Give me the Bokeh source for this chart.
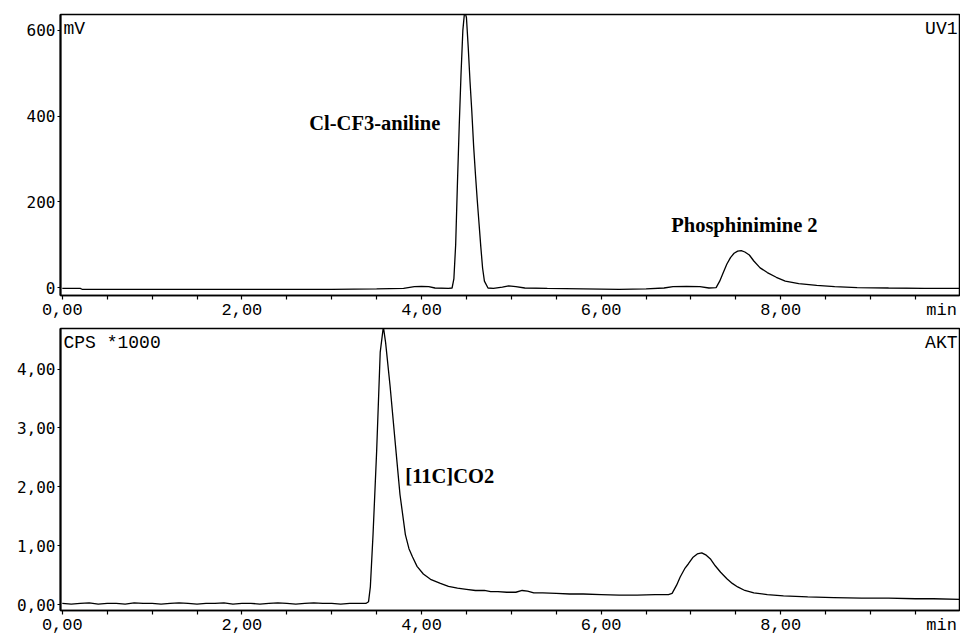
from bokeh.plotting import figure
from bokeh.layouts import column
from bokeh.models import Label, FixedTicker, Range1d
from bokeh.embed import file_html
from bokeh.resources import INLINE

# ---------------- data ----------------
uv_time = [0.00, 0.20, 0.22, 0.60, 1.00, 1.50, 2.00, 2.50, 3.00, 3.50,
           3.80, 3.92, 4.00, 4.08, 4.15, 4.30, 4.34, 4.36, 4.38, 4.40,
           4.42, 4.44, 4.46, 4.48, 4.50, 4.52, 4.54, 4.56, 4.58, 4.60,
           4.62, 4.64, 4.66, 4.68, 4.70, 4.74, 4.80, 4.90, 4.97, 5.05,
           5.15, 5.40, 5.80, 6.20, 6.50, 6.70, 6.80, 6.95, 7.10, 7.20,
           7.28, 7.32, 7.36, 7.40, 7.44, 7.48, 7.52, 7.56, 7.60, 7.65,
           7.70, 7.77, 7.85, 7.95, 8.05, 8.20, 8.40, 8.60, 8.85, 9.20,
           9.60, 10.00]
uv_mv = [-2, -2, -4, -4, -4, -4, -4, -4, -4, -3,
         -2, 2, 3, 2, -1, -2, -1, 20, 100, 245,
         380, 500, 600, 645, 630, 560, 480, 410, 330, 265,
         205, 150, 95, 45, 15, -1, -2, 1, 4, 2,
         -1, -2, -3, -4, -3, -1, 2, 3, 2, -1,
         0, 15, 35, 55, 70, 80, 85, 86, 83, 76,
         62, 46, 35, 24, 15, 9, 5, 2, 0, -1,
         -2, -2]

rad_time = [0.0, 0.1, 0.2, 0.3, 0.4, 0.5, 0.6, 0.7, 0.8, 0.9,
            1.0, 1.1, 1.2, 1.3, 1.4, 1.5, 1.6, 1.7, 1.8, 1.9,
            2.0, 2.1, 2.2, 2.3, 2.4, 2.5, 2.6, 2.7, 2.8, 2.9,
            3.0, 3.1, 3.2, 3.3, 3.38, 3.41, 3.43, 3.46, 3.50, 3.54,
            3.575, 3.60, 3.65, 3.71, 3.76, 3.82, 3.86, 3.90, 3.95, 4.02,
            4.10, 4.21, 4.30, 4.40, 4.50, 4.60, 4.70, 4.77, 4.85, 4.95,
            5.05, 5.12, 5.18, 5.25, 5.35, 5.50, 5.65, 5.80, 6.00, 6.20,
            6.40, 6.60, 6.75, 6.79, 6.84, 6.88, 6.93, 6.97, 7.02, 7.07,
            7.12, 7.17, 7.22, 7.27, 7.33, 7.40, 7.46, 7.52, 7.60, 7.70,
            7.85, 8.03, 8.30, 8.59, 8.90, 9.20, 9.50, 9.70, 10.00]
rad_cps = [0.02, 0.01, 0.02, 0.03, 0.01, 0.02, 0.02, 0.01, 0.03, 0.02,
           0.02, 0.01, 0.02, 0.03, 0.02, 0.01, 0.02, 0.02, 0.03, 0.01,
           0.02, 0.02, 0.01, 0.02, 0.03, 0.02, 0.01, 0.02, 0.03, 0.02,
           0.02, 0.01, 0.02, 0.02, 0.02, 0.05, 0.30, 1.19, 2.60, 4.29,
           4.72, 4.45, 3.71, 2.70, 1.87, 1.19, 0.95, 0.81, 0.65, 0.52,
           0.43, 0.36, 0.31, 0.28, 0.26, 0.24, 0.24, 0.22, 0.22, 0.21,
           0.21, 0.24, 0.23, 0.20, 0.20, 0.19, 0.18, 0.18, 0.17, 0.16,
           0.16, 0.17, 0.17, 0.19, 0.33, 0.47, 0.61, 0.69, 0.80, 0.86,
           0.88, 0.84, 0.77, 0.66, 0.55, 0.44, 0.36, 0.30, 0.24, 0.20,
           0.17, 0.15, 0.13, 0.12, 0.11, 0.11, 0.10, 0.10, 0.09]

# labelled x positions (the last one carries the unit "min")
x_label_pos = [0, 2, 4, 6, 8, 9.79]
x_labels = {0: "0,00", 2: "2,00", 4: "4,00", 6: "6,00", 8: "8,00", 9.79: "min"}
x_tick_marks = [0, 0.5, 1.0, 1.5, 2.0, 2.5, 3.0, 3.5, 4.0, 4.5,
                5.0, 5.5, 6.0, 6.5, 7.0, 7.5, 8.0, 8.5, 9.0, 9.5]
uv_ticks = [0, 200, 400, 600]
uv_labels = {0: "0", 200: "200", 400: "400", 600: "600"}
rad_ticks = [0, 1, 2, 3, 4]
rad_labels = {0: "0,00", 1: "1,00", 2: "2,00", 3: "3,00", 4: "4,00"}

uv_peaks = ["Cl-CF3-aniline", "Phosphinimine 2"]
uv_peak_x = [2.75, 6.78]
uv_peak_y = [384, 146]
rad_peaks = ["[11C]CO2"]
rad_peak_x = [3.82]
rad_peak_y = [2.18]

X_START, X_END = -0.02, 9.99
MONO = "Liberation Mono"


def make_fig(height, border_top, border_bottom, y0, y1, yticks, ylabels):
    p = figure(width=960, height=height, output_backend="svg", toolbar_location=None,
               x_range=Range1d(X_START, X_END), y_range=Range1d(y0, y1),
               min_border_left=60, min_border_right=1,
               min_border_top=border_top, min_border_bottom=border_bottom)
    p.grid.visible = False
    p.outline_line_color = "black"
    p.outline_line_width = 1.5
    p.background_fill_color = "white"
    p.border_fill_color = "white"

    xa = p.xaxis[0]
    xa.ticker = FixedTicker(ticks=x_label_pos, minor_ticks=x_tick_marks)
    xa.major_label_overrides = x_labels
    xa.major_tick_in = 0
    xa.major_tick_out = 0
    xa.minor_tick_in = 0
    xa.minor_tick_out = 4
    xa.minor_tick_line_width = 1.2
    xa.axis_line_width = 1.5
    xa.major_label_standoff = 1
    xa.major_label_text_font = MONO
    xa.major_label_text_font_size = "17px"
    xa.major_label_text_color = "black"

    ya = p.yaxis[0]
    ya.ticker = FixedTicker(ticks=yticks, minor_ticks=[])
    ya.major_label_overrides = ylabels
    ya.major_tick_in = 0
    ya.major_tick_out = 3
    ya.major_tick_line_width = 1
    ya.axis_line_width = 2
    ya.major_label_standoff = 2
    ya.major_label_text_font = "DejaVu Sans Mono"
    ya.major_label_text_font_size = "16px"
    ya.major_label_text_color = "black"
    return p


def corner_labels(p, y1, left_text, right_text):
    p.add_layout(Label(x=X_START, y=y1, text=left_text, x_offset=3, y_offset=-4,
                       text_baseline="top", text_align="left",
                       text_font=MONO, text_font_size="18px", text_color="black"))
    p.add_layout(Label(x=X_END, y=y1, text=right_text, x_offset=-2, y_offset=-4,
                       text_baseline="top", text_align="right",
                       text_font=MONO, text_font_size="18px", text_color="black"))


# ---------------- top: UV ----------------
UV_Y0, UV_Y1 = -18.5, 637
p1 = make_fig(322, 14, 25, UV_Y0, UV_Y1, uv_ticks, uv_labels)
p1.line(uv_time, uv_mv, line_color="black", line_width=1.3)
corner_labels(p1, UV_Y1, "mV", "UV1")
for name, xx, yy in zip(uv_peaks, uv_peak_x, uv_peak_y):
    p1.add_layout(Label(x=xx, y=yy, text=name, text_align="left", text_baseline="middle",
                        text_font="Liberation Serif", text_font_style="bold",
                        text_font_size="20.5px", text_color="black"))

# ---------------- bottom: radio ----------------
RAD_Y0, RAD_Y1 = -0.10, 4.69
p2 = make_fig(315, 6, 25, RAD_Y0, RAD_Y1, rad_ticks, rad_labels)
p2.line(rad_time, rad_cps, line_color="black", line_width=1.3)
corner_labels(p2, RAD_Y1, "CPS *1000", "AKT")
for name, xx, yy in zip(rad_peaks, rad_peak_x, rad_peak_y):
    p2.add_layout(Label(x=xx, y=yy, text=name, text_align="left", text_baseline="middle",
                        text_font="Liberation Serif", text_font_style="bold",
                        text_font_size="20.5px", text_color="black"))

layout = column(p1, p2, spacing=0)
open("out.html", "w").write(file_html(layout, INLINE))
